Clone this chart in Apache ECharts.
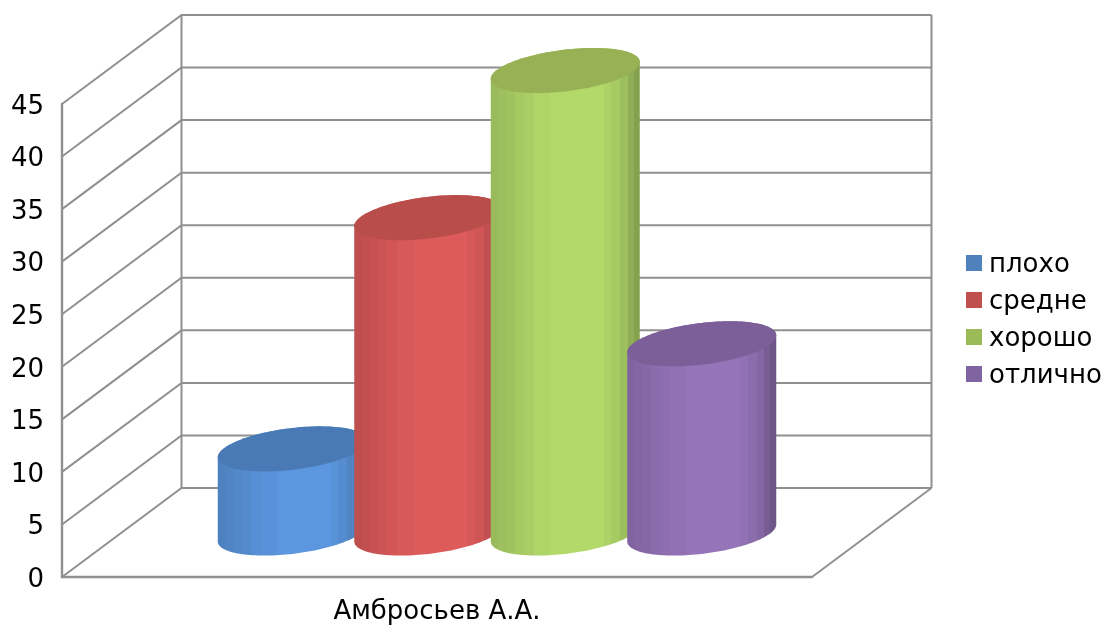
<!DOCTYPE html>
<html>
<head>
<meta charset="utf-8">
<style>html,body{margin:0;padding:0;background:#fff}#c{width:1103px;height:625px}</style>
<script src="https://cdn.jsdelivr.net/npm/echarts@6/dist/echarts.min.js"></script>
</head>
<body>
<div id="c"></div>
<script>
// Chart content
const categories = ['Амбросьев А.А.'];
const seriesNames = ['плохо', 'средне', 'хорошо', 'отлично'];
const badValues = [8];
const averageValues = [30];
const goodValues = [44];
const excellentValues = [18];
const yTicks = [0, 5, 10, 15, 20, 25, 30, 35, 40, 45];

// Palette: legend swatch, cylinder cap, brightest side tone
const swatchColors = ['#4f81bd', '#c0504d', '#9bbb59', '#8064a2'];
const capColors = ['#4a7ab5', '#b94d4a', '#97b154', '#7c5f98'];
const sideColors = ['#5b96de', '#de5b5b', '#b3d96a', '#9574b9'];

// Fake-3D box and cylinder proportions, in pixels
const DEPTH_X = 119.5, DEPTH_Y = -89;
const FLOOR_MID_X = 60, FLOOR_MID_Y = -44;
const PITCH = 136.5, RX = 74.5, RY = 20.9, SHEAR = 8.5;
const LINE = '#909090';

// Faceted shading across a cylinder wall: [end of band, brightness]
const bands = [[.05,.86],[.1,.88],[.16,.9],[.22,.925],[.29,.95],[.4,.975],[.76,1],[.81,.97],[.87,.935],[.92,.88],[.96,.8],[1,.74]];

function shade(hex, f) {
  const n = parseInt(hex.slice(1), 16);
  const c = [n >> 16, (n >> 8) & 255, n & 255].map(v => Math.round(v * f));
  return 'rgb(' + c.join(',') + ')';
}
function wallGradient(hex) {
  const stops = [];
  let from = 0;
  bands.forEach(([to, f]) => {
    const color = shade(hex, f);
    stops.push({offset: from, color}, {offset: to, color});
    from = to;
  });
  return {type: 'linear', x: 0, y: 0, x2: 1, y2: 0, colorStops: stops};
}
// Point on the tilted ellipse around (cx, cy) at angle t
function rim(cx, cy, t) {
  return [cx + RX * Math.cos(t), cy - SHEAR * Math.cos(t) - RY * Math.sin(t)];
}

function renderCylinder(index) {
  return function (params, api) {
    const top = api.coord([api.value(0), api.value(1)]);
    const base = api.coord([api.value(0), 0]);
    const cx = top[0] + FLOOR_MID_X + (index - 1.5) * PITCH;
    const topY = top[1] + FLOOR_MID_Y;
    const baseY = base[1] + FLOOR_MID_Y;
    const N = 72;
    const wall = [];
    for (let i = 0; i <= N; i++) wall.push(rim(cx, topY, Math.PI * i / N));
    for (let i = 0; i <= N; i++) wall.push(rim(cx, baseY, Math.PI + Math.PI * i / N));
    const cap = [];
    for (let i = 0; i < N * 2; i++) cap.push(rim(cx, topY, Math.PI * i / N));
    return {
      type: 'group',
      children: [
        {type: 'polygon', shape: {points: wall}, style: {fill: wallGradient(sideColors[index])}},
        {type: 'polygon', shape: {points: cap}, style: {fill: capColors[index]}}
      ]
    };
  };
}

// One ring of gridlines: left wall diagonal plus back wall horizontal
function renderGridRing(params, api) {
  const p = api.coord([0, api.value(0)]);
  const left = p[0] - api.size([1, 0])[0] / 2;
  const width = api.size([1, 0])[0];
  return {
    type: 'polyline',
    shape: {points: [[left, p[1]], [left + DEPTH_X, p[1] + DEPTH_Y], [left + width + DEPTH_X, p[1] + DEPTH_Y]]},
    style: {stroke: LINE, lineWidth: 2, fill: null}
  };
}
// Back wall uprights and the floor outline
function renderBox(params, api) {
  const b = api.coord([0, 0]);
  const t = api.coord([0, 45]);
  const width = api.size([1, 0])[0];
  const left = b[0] - width / 2;
  const line = (pts) => ({type: 'polyline', shape: {points: pts}, style: {stroke: LINE, lineWidth: 2, fill: null}});
  return {
    type: 'group',
    children: [
      line([[left + DEPTH_X, b[1] + DEPTH_Y], [left + DEPTH_X, t[1] + DEPTH_Y]]),
      line([[left + width + DEPTH_X, b[1] + DEPTH_Y], [left + width + DEPTH_X, t[1] + DEPTH_Y]]),
      line([[left + width, b[1]], [left + width + DEPTH_X, b[1] + DEPTH_Y]])
    ]
  };
}

const valueSets = [badValues, averageValues, goodValues, excellentValues];
const cylinderSeries = seriesNames.map((name, i) => ({
  name,
  type: 'custom',
  coordinateSystem: 'cartesian2d',
  encode: {x: 0, y: 1},
  itemStyle: {color: swatchColors[i]},
  data: valueSets[i].map((v, k) => [k, v]),
  renderItem: renderCylinder(i),
  z: 5
}));

const chart = echarts.init(document.getElementById('c'), null, {renderer: 'canvas'});
chart.setOption({
  animation: false,
  backgroundColor: '#fff',
  textStyle: {fontFamily: 'DejaVu Sans'},
  grid: {left: 62, top: 104, width: 750, height: 474},
  xAxis: {
    type: 'category',
    data: categories,
    axisTick: {show: false},
    axisLine: {show: true, lineStyle: {color: LINE, width: 2.4}},
    axisLabel: {color: '#000', fontSize: 26, fontFamily: 'DejaVu Sans', margin: 22}
  },
  yAxis: {
    type: 'value',
    min: 0,
    max: 45,
    interval: 5,
    splitLine: {show: false},
    axisTick: {show: false},
    axisLine: {show: true, lineStyle: {color: LINE, width: 2.4}},
    axisLabel: {
      margin: 18,
      formatter: '{t|{value}}',
      rich: {t: {color: '#000', fontSize: 26, fontFamily: 'DejaVu Sans', padding: [6, 0, 0, 0]}}
    }
  },
  legend: {
    orient: 'vertical',
    left: 966,
    top: 252,
    itemWidth: 16,
    itemHeight: 16,
    itemGap: 11,
    selectedMode: false,
    data: seriesNames.map((name, i) => ({name, icon: 'rect', itemStyle: {color: swatchColors[i]}})),
    formatter: '{t|{name}}',
    textStyle: {
      rich: {t: {color: '#000', fontSize: 26, fontFamily: 'DejaVu Sans', padding: [4, 0, 0, 2]}}
    },
    itemStyle: {borderWidth: 0},
    padding: 0
  },
  series: [
    {type: 'custom', coordinateSystem: 'cartesian2d', silent: true, data: yTicks.map(v => [v]), encode: {y: 0}, renderItem: renderGridRing, z: 1},
    {type: 'custom', coordinateSystem: 'cartesian2d', silent: true, data: [[0]], encode: {y: 0}, renderItem: renderBox, z: 1}
  ].concat(cylinderSeries)
});
</script>
</body>
</html>
